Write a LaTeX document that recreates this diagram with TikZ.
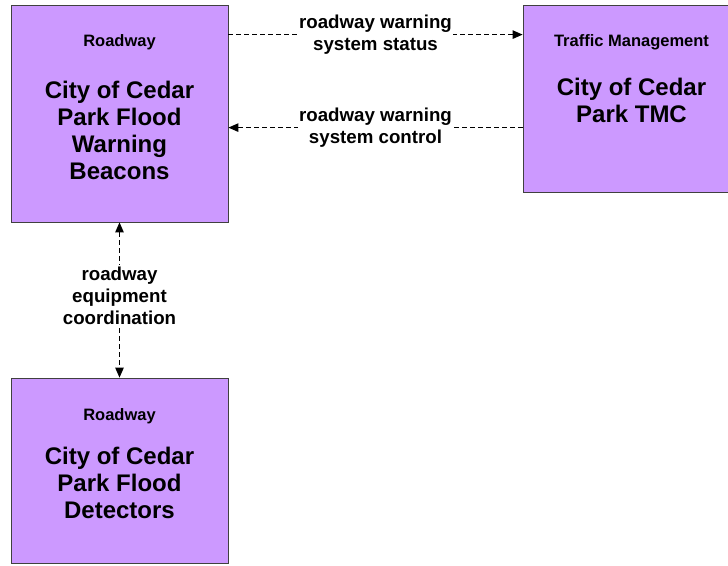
\documentclass[tikz,border=0pt]{standalone}
\usepackage{fontspec}
\setmainfont{Liberation Sans}
\usetikzlibrary{positioning,arrows.meta}
\definecolor{elemfill}{HTML}{CC99FF}

\begin{document}
\begin{tikzpicture}[
  x=1pt, y=1pt,
  >={Triangle[length=10pt,width=8.5pt]},
  element/.style={draw=black!75, line width=0.8pt, fill=elemfill,
                  minimum width=217pt, inner sep=0pt},
  kind/.style={font=\fontsize{16.5}{19}\selectfont\bfseries},
  title/.style={font=\fontsize{24}{27}\selectfont\bfseries, align=center},
  flow/.style={draw, line width=1pt, dash pattern=on 5pt off 3pt},
  lbl/.style={font=\fontsize{18.7}{22}\selectfont\bfseries, align=center,
              fill=white, inner sep=1.5pt},
]
  \useasboundingbox (0,0) rectangle (728,-565);
  \clip (0,0) rectangle (728,-565);

  % Elements
  \node[element, minimum height=217pt] (beacons)   at (119.5,-113.5) {};
  \node[element, minimum height=187pt] (tmc)       at (631.5,-98.5)  {};
  \node[element, minimum height=185pt] (detectors) at (119.5,-470.5) {};

  \node[kind]  at ([yshift=-38pt]beacons.north) {Roadway};
  \node[title] at ([yshift=-126pt]beacons.north)
    {City of Cedar\\Park Flood\\Warning\\Beacons};
  \node[kind]  at ([yshift=-38pt]tmc.north) {Traffic Management};
  \node[title] at ([yshift=-96pt]tmc.north) {City of Cedar\\Park TMC};
  \node[kind]  at ([yshift=-39pt]detectors.north) {Roadway};
  \node[title] at ([yshift=-105pt]detectors.north)
    {City of Cedar\\Park Flood\\Detectors};

  % Flows
  \path[flow, ->] ([yshift=-30pt]beacons.north east) -- ([yshift=-30pt]tmc.north west)
    node[lbl, midway] {roadway warning\\system status};
  \path[flow, ->] ([yshift=-123pt]tmc.north west) -- ([yshift=-123pt]beacons.north east)
    node[lbl, midway] {roadway warning\\system control};
  \path[flow, <->] (beacons.south) -- (detectors.north)
    node[lbl, pos=0.47] {roadway\\equipment\\coordination};
\end{tikzpicture}
\end{document}
